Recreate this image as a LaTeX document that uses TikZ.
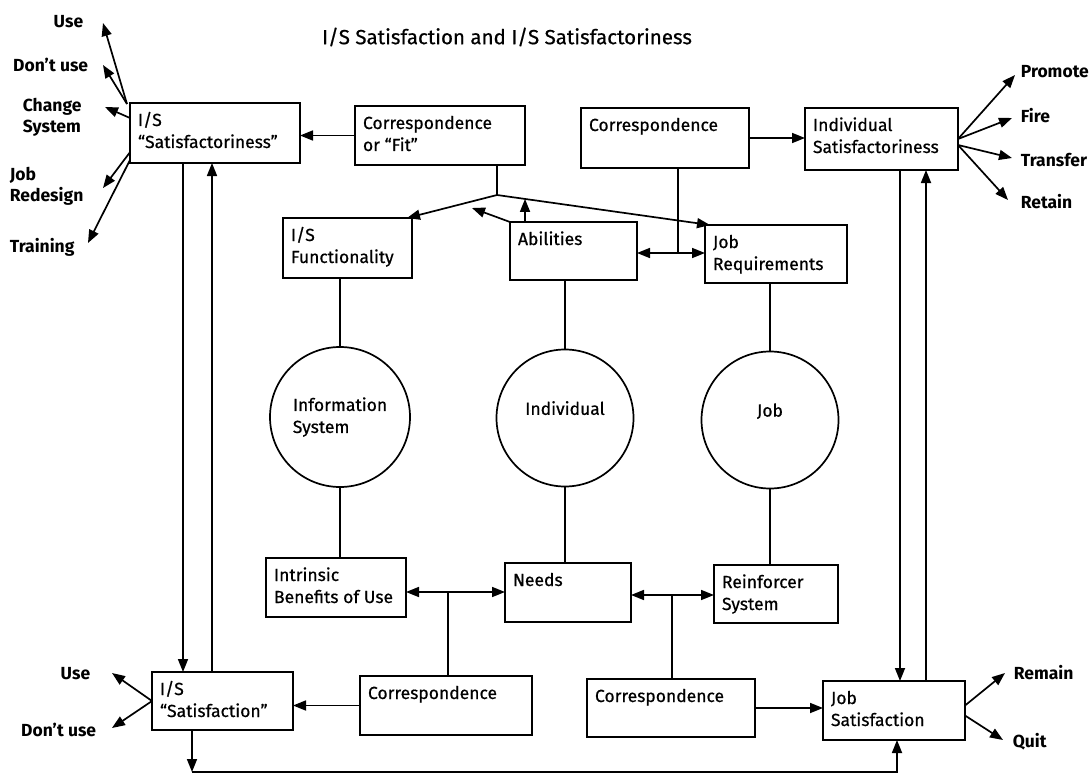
\documentclass[tikz,border=0pt]{standalone}
\usepackage{fontspec}
\setmainfont{Fira Sans}
\newfontfamily\medfam[FakeBold=0.6,Ligatures=TeX]{Fira Sans}
\usetikzlibrary{arrows.meta,calc}

% fonts for box text, outside labels and heading
\newcommand\bxfont{\medfam\fontsize{17.5}{22}\selectfont}
\newcommand\lbfont{\fontsize{17.5}{21}\selectfont\bfseries}
\newcommand\hdfont{\medfam\fontsize{20.5}{24}\selectfont}

% rectangular box: name, x, y (top left), width, height, text
\newcommand\mkbox[6]{%
  \node[blk] (#1) at (#2,#3)
    {\parbox[c][#5pt][t]{#4pt}{\bxfont\raggedright\leftskip=8pt\rule{0pt}{23pt}#6}};}

\begin{document}
\begin{tikzpicture}[x=1pt,y=-1pt,line width=1.7pt,
  tip/.style={-{Triangle[length=13pt,width=10pt]}},
  dtip/.style={{Triangle[length=13pt,width=10pt]}-{Triangle[length=13pt,width=10pt]}},
  blk/.style={draw,line width=1.7pt,inner sep=0pt,outer sep=0pt,anchor=north west},
  circ/.style={draw,circle,line width=1.7pt,inner sep=0pt,align=left,font=\bxfont},
  lab/.style={font=\lbfont,inner sep=0pt,align=left}]
\useasboundingbox (0,0) rectangle (1092,781);

% heading
\node[font=\hdfont,inner sep=0pt] (title) at (507,37) {I/S Satisfaction and I/S Satisfactoriness};

% boxes
\mkbox{iss}{130}{103}{170}{60}{I/S\\“Satisfactoriness”}
\mkbox{cfit}{355}{106}{170}{59}{Correspondence\\or “Fit”}
\mkbox{cjob}{581}{108}{168}{60}{Correspondence}
\mkbox{inds}{805}{108}{153}{62}{Individual\\Satisfactoriness}
\mkbox{isf}{283}{218}{129}{60}{I/S\\Functionality}
\mkbox{abil}{510}{222}{127}{58}{Abilities}
\mkbox{jreq}{705}{225}{142}{58}{Job\\Requirements}
\mkbox{ibu}{266}{558}{140}{59}{Intrinsic\\Benefits of Use}
\mkbox{needs}{505}{563}{126}{59}{Needs}
\mkbox{rsys}{714}{565}{124}{58}{Reinforcer\\System}
\mkbox{issat}{152}{672}{141}{58}{I/S\\“Satisfaction”}
\mkbox{cis}{360}{676}{172}{59}{Correspondence}
\mkbox{cre}{587}{679}{168}{58}{Correspondence}
\mkbox{jsat}{823}{681}{142}{59}{Job\\Satisfaction}

% circles
\node[circ,minimum size=140pt] (infs) at (340,417) {Information\\System};
\node[circ,minimum size=137pt] (indiv) at (565,418) {Individual\\[-2pt]\mbox{}};
\node[circ,minimum size=137pt] (job) at (770,420) {Job\\[-2pt]\mbox{}};

% circles to their boxes
\draw (infs.north) -- (infs.north |- isf.south);
\draw (infs.south) -- (infs.south |- ibu.north);
\draw (indiv.north) -- (indiv.north |- abil.south);
\draw (indiv.south) -- (indiv.south |- needs.north);
\draw (job.north) -- (job.north |- jreq.south);
\draw (job.south) -- (job.south |- rsys.north);

% correspondence or fit, upper left
\coordinate (j1) at (497,195);
\coordinate (isftop) at ($(isf.north east)+(-5,0)$);
\coordinate (jrtop) at ($(jreq.north west)+(5,0)$);
\draw (j1 |- cfit.south) -- (j1);
\draw[tip] (j1) -- (isftop);
\draw[tip] (j1) -- (jrtop);
\coordinate (abtop) at (525,222);
\draw[tip] (abtop) -- ($(j1)!0.1315!(jrtop)$);
\draw[tip] (abil.north west) -- ($(abil.north west)+(-38,-14)$);
\draw[tip] (cfit.west) -- (iss.east |- cfit.west);

% correspondence, upper right
\coordinate (j2) at (678,253);
\draw (j2 |- cjob.south) -- (j2);
\draw[dtip] (abil.east |- j2) -- (jreq.west |- j2);
\draw[tip] (cjob.east) -- (inds.west |- cjob.east);

% correspondence, lower left and lower right
\coordinate (j3) at (448,592);
\draw[dtip] (ibu.east |- j3) -- (needs.west |- j3);
\draw (j3) -- (j3 |- cis.north);
\draw[tip] (cis.west) -- (issat.east |- cis.west);
\coordinate (j4) at (672,595);
\draw[dtip] (needs.east |- j4) -- (rsys.west |- j4);
\draw (j4) -- (j4 |- cre.north);
\draw[tip] (cre.east) -- (jsat.west |- cre.east);

% vertical links between the outer boxes
\coordinate (v1) at (183,0);
\coordinate (v2) at (212,0);
\draw[tip] (v1 |- iss.south) -- (v1 |- issat.north);
\draw[tip] (v2 |- issat.north) -- (v2 |- iss.south);
\coordinate (v3) at (900,0);
\coordinate (v4) at (926,0);
\draw[tip] (v3 |- inds.south) -- (v3 |- jsat.north);
\draw[tip] (v4 |- jsat.north) -- (v4 |- inds.south);

% bottom line from I/S satisfaction to job satisfaction
\coordinate (b1) at (192,772);
\coordinate (b2) at (897,772);
\draw[tip] (b1 |- issat.south) -- (b1);
\draw[tip] (b1) -- (b2) -- (b2 |- jsat.south);

% outcomes of I/S satisfactoriness
\coordinate (s1) at ($(iss.north west)+(-3,1)$);
\coordinate (s2) at ($(iss.north west)!0.25!(iss.south west)$);
\coordinate (s3) at ($(iss.north west)!0.82!(iss.south west)$);
\coordinate (s4) at ($(iss.north west)!0.95!(iss.south west)$);
\coordinate (t1) at (103,23);
\coordinate (t2) at (103,65);
\coordinate (t3) at (105,107);
\coordinate (t4) at (103,188);
\coordinate (t5) at (88,243);
\draw[tip] (s1) -- (t1);
\draw[tip] (s1) -- (t2);
\draw[tip] (s2) -- (t3);
\draw[tip] (s3) -- (t4);
\draw[tip] (s4) -- (t5);
\node[lab,anchor=east] (luse) at (84,22) {Use};
\node[lab,anchor=east] (ldont) at (89,65) {Don't use};
\node[lab,anchor=west] (lchg) at (22,117) {Change\\System};
\node[lab,anchor=west] (ljob) at (9,186) {Job\\Redesign};
\node[lab,anchor=west] (ltrn) at (9,247) {Training};

% outcomes of individual satisfactoriness
\coordinate (r1) at (inds.east);
\coordinate (r2) at ($(inds.east)+(0,6)$);
\coordinate (p1) at (1015,75);
\coordinate (p2) at (1012,118);
\coordinate (p3) at (1012,158);
\coordinate (p4) at (1008,200);
\draw[tip] (r1) -- (p1);
\draw[tip] (r1) -- (p2);
\draw[tip] (r2) -- (p3);
\draw[tip] (r2) -- (p4);
\node[lab,anchor=west] (lpro) at (1020,72) {Promote};
\node[lab,anchor=west] (lfir) at (1020,116) {Fire};
\node[lab,anchor=west] (ltra) at (1020,160) {Transfer};
\node[lab,anchor=west] (lret) at (1020,202) {Retain};

% outcomes of job satisfaction
\coordinate (q1) at ($(jsat.east)+(0,-5)$);
\coordinate (q2) at ($(jsat.east)+(0,5)$);
\coordinate (m1) at (1005,673);
\coordinate (m2) at (1003,740);
\draw[tip] (q1) -- (m1);
\draw[tip] (q2) -- (m2);
\node[lab,anchor=west] (lrem) at (1013,673) {Remain};
\node[lab,anchor=west] (lqut) at (1012,742) {Quit};

% outcomes of I/S satisfaction
\coordinate (u0) at (issat.west);
\coordinate (u1) at (112,673);
\coordinate (u2) at (112,728);
\draw[tip] (u0) -- (u1);
\draw[tip] (u0) -- (u2);
\node[lab,anchor=east] (luse2) at (91,674) {Use};
\node[lab,anchor=east] (ldont2) at (97,730) {Don't use};
\end{tikzpicture}
\end{document}
